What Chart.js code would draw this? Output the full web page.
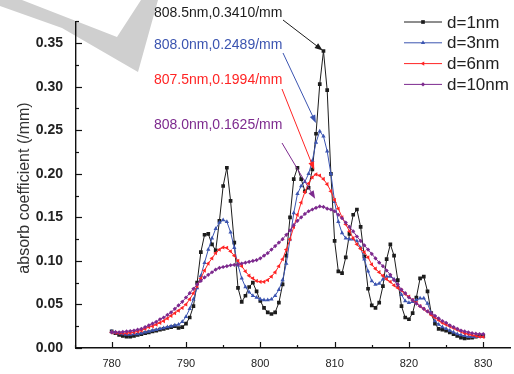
<!DOCTYPE html>
<html>
<head>
<meta charset="utf-8">
<title>absorb coefficient</title>
<script src="https://cdn.jsdelivr.net/npm/chart.js@4.4.1/dist/chart.umd.min.js"></script>
<style>
  html, body { margin:0; padding:0; background:#fff; }
  #wrap { width:514px; height:374px; position:relative; }
</style>
</head>
<body>
<div id="wrap"><canvas id="chart-absorb" width="514" height="374"></canvas></div>
<script>
/* ── Data: absorption spectra, 0.5 nm step ── */
var WAVELENGTH = [
  780,780.5,781,781.5,782,782.5,783,783.5,784,784.5,
  785,785.5,786,786.5,787,787.5,788,788.5,789,789.5,
  790,790.5,791,791.5,792,792.5,793,793.5,794,794.5,
  795,795.5,796,796.5,797,797.5,798,798.5,799,799.5,
  800,800.5,801,801.5,802,802.5,803,803.5,804,804.5,
  805,805.5,806,806.5,807,807.5,808,808.5,809,809.5,
  810,810.5,811,811.5,812,812.5,813,813.5,814,814.5,
  815,815.5,816,816.5,817,817.5,818,818.5,819,819.5,
  820,820.5,821,821.5,822,822.5,823,823.5,824,824.5,
  825,825.5,826,826.5,827,827.5,828,828.5,829,829.5,
  830
];

var ABS_D1 = [
  0.019,0.017,0.015,0.014,0.013,0.013,0.014,0.015,0.016,0.017,
  0.018,0.019,0.020,0.021,0.022,0.023,0.024,0.025,0.023,0.024,
  0.028,0.035,0.048,0.075,0.110,0.130,0.131,0.119,0.112,0.146,
  0.186,0.207,0.169,0.121,0.069,0.053,0.060,0.070,0.075,0.065,
  0.054,0.046,0.041,0.039,0.041,0.052,0.073,0.106,0.150,0.194,
  0.207,0.194,0.180,0.184,0.205,0.246,0.303,0.3410,0.296,0.200,
  0.123,0.088,0.086,0.104,0.131,0.153,0.159,0.139,0.105,0.068,
  0.049,0.046,0.052,0.071,0.102,0.119,0.106,0.078,0.048,0.035,
  0.033,0.040,0.058,0.080,0.082,0.065,0.040,0.028,0.022,0.021,
  0.020,0.018,0.016,0.014,0.012,0.011,0.0115,0.012,0.013,0.014,
  0.014
];

var ABS_D3 = [
  0.019,0.018,0.017,0.016,0.0155,0.0155,0.016,0.016,0.017,0.018,
  0.019,0.020,0.021,0.022,0.023,0.024,0.025,0.026,0.027,0.030,
  0.036,0.045,0.056,0.069,0.083,0.098,0.113,0.126,0.137,0.144,
  0.147,0.145,0.133,0.115,0.095,0.080,0.070,0.064,0.060,0.058,
  0.056,0.055,0.055,0.056,0.060,0.067,0.078,0.097,0.125,0.155,
  0.177,0.186,0.191,0.200,0.215,0.236,0.2489,0.243,0.226,0.200,
  0.168,0.145,0.132,0.126,0.125,0.125,0.123,0.115,0.102,0.088,
  0.077,0.073,0.074,0.079,0.082,0.082,0.079,0.071,0.061,0.054,
  0.052,0.053,0.055,0.057,0.057,0.051,0.040,0.031,0.027,0.024,
  0.022,0.020,0.018,0.016,0.015,0.014,0.013,0.013,0.013,0.013,
  0.013
];

var ABS_D6 = [
  0.018,0.0175,0.017,0.017,0.017,0.0175,0.018,0.019,0.020,0.022,
  0.024,0.025,0.027,0.029,0.031,0.034,0.037,0.040,0.043,0.046,
  0.050,0.056,0.063,0.071,0.080,0.089,0.097,0.103,0.109,0.113,
  0.1155,0.115,0.111,0.106,0.100,0.094,0.088,0.083,0.080,0.077,
  0.076,0.076,0.078,0.082,0.087,0.094,0.102,0.113,0.125,0.139,
  0.153,0.167,0.179,0.189,0.196,0.1994,0.198,0.194,0.188,0.180,
  0.170,0.160,0.150,0.142,0.134,0.126,0.119,0.114,0.110,0.104,
  0.096,0.091,0.087,0.083,0.079,0.076,0.072,0.069,0.066,0.062,
  0.059,0.055,0.052,0.048,0.045,0.042,0.038,0.035,0.032,0.029,
  0.027,0.025,0.023,0.021,0.019,0.017,0.016,0.015,0.014,0.013,
  0.0127
];

var ABS_D10 = [
  0.018,0.018,0.018,0.0185,0.019,0.0195,0.020,0.021,0.022,0.024,
  0.026,0.028,0.030,0.033,0.035,0.038,0.041,0.045,0.049,0.053,
  0.058,0.063,0.068,0.073,0.077,0.081,0.084,0.087,0.090,0.092,
  0.093,0.094,0.095,0.0955,0.096,0.097,0.098,0.099,0.100,0.101,
  0.103,0.106,0.109,0.113,0.117,0.121,0.125,0.130,0.135,0.141,
  0.146,0.150,0.154,0.157,0.159,0.161,0.1625,0.162,0.160,0.159,
  0.157,0.153,0.149,0.144,0.139,0.134,0.128,0.123,0.118,0.113,
  0.108,0.103,0.098,0.094,0.089,0.084,0.078,0.073,0.067,0.063,
  0.058,0.055,0.051,0.048,0.045,0.042,0.040,0.037,0.034,0.031,
  0.029,0.026,0.024,0.022,0.020,0.019,0.018,0.017,0.0165,0.016,
  0.016
];

var SERIES_NAMES = ['d=1nm', 'd=3nm', 'd=6nm', 'd=10nm'];
var X_TICKS = [780, 790, 800, 810, 820, 830];
var X_MINOR = [775, 785, 795, 805, 815, 825];
var Y_TICKS = [0, 0.05, 0.10, 0.15, 0.20, 0.25, 0.30, 0.35];
var Y_MINOR = [0.025, 0.075, 0.125, 0.175, 0.225, 0.275, 0.325, 0.375];
var Y_TITLE = 'absorb coefficient (/mm)';

// peak callouts: wavelength, value, text
var PEAK_NM  = [808.5, 808.0, 807.5, 808.0];
var PEAK_VAL = [0.3410, 0.2489, 0.1994, 0.1625];
var PEAK_TXT = ['808.5nm,0.3410/mm', '808.0nm,0.2489/mm', '807.5nm,0.1994/mm', '808.0nm,0.1625/mm'];

var FONT = "'Liberation Sans', Arial, sans-serif";
var COLORS = ['#1c1c1c', '#3b54b0', '#ff2424', '#7d2a8e'];
var MARKERS = [
  { style:'rect',     rot:0,   r:2.6 },
  { style:'triangle', rot:0,   r:2.5 },
  { style:'triangle', rot:270, r:2.5 },
  { style:'rectRot',  rot:0,   r:2.1 }
];

function pts(arr) {
  return WAVELENGTH.map(function(x, i) { return { x:x, y:arr[i] }; });
}

/* ── Extras: watermark, axis title, inward ticks, callouts, legend ── */
var extrasPlugin = {
  id: 'extras',
  beforeDraw: function(chart) {
    var ctx = chart.ctx;
    ctx.save();
    ctx.fillStyle = '#cfcfcf';
    ctx.beginPath();
    ctx.moveTo(22, 0); ctx.lineTo(117, 37); ctx.lineTo(141, 0);
    ctx.lineTo(158, 0); ctx.lineTo(138, 72); ctx.lineTo(62, 28);
    ctx.lineTo(0, 6); ctx.lineTo(0, 0);
    ctx.closePath(); ctx.fill();
    ctx.restore();
  },
  afterDraw: function(chart) {
    var ctx = chart.ctx, xs = chart.scales.x, ys = chart.scales.y;
    var a = chart.chartArea;
    ctx.save();

    // y axis title
    ctx.save();
    ctx.translate(25, 188);
    ctx.rotate(-Math.PI / 2);
    ctx.font = '16px ' + FONT;
    ctx.fillStyle = '#333';
    ctx.textAlign = 'center';
    ctx.textBaseline = 'middle';
    ctx.fillText(Y_TITLE, 0, 0);
    ctx.restore();

    // ticks pointing into the plot
    ctx.strokeStyle = '#111'; ctx.lineWidth = 1.2;
    function tickX(v, len) { var p = Math.round(xs.getPixelForValue(v)) + 0.5; ctx.beginPath(); ctx.moveTo(p, a.bottom); ctx.lineTo(p, a.bottom - len); ctx.stroke(); }
    function tickY(v, len) { var p = Math.round(ys.getPixelForValue(v)) + 0.5; ctx.beginPath(); ctx.moveTo(a.left, p); ctx.lineTo(a.left + len, p); ctx.stroke(); }
    X_TICKS.forEach(function(v) { tickX(v, 6); });
    X_MINOR.forEach(function(v) { tickX(v, 3); });
    Y_TICKS.forEach(function(v) { tickY(v, 6); });
    Y_MINOR.forEach(function(v) { tickY(v, 3); });

    // peak callouts with arrows
    var starts = [[283, 20], [283, 53], [282, 89], [282, 143]];
    var textY  = [13, 45, 80, 125];
    var gaps   = [1, 9, 5, 9];
    ctx.font = '14px ' + FONT;
    ctx.textAlign = 'left';
    ctx.textBaseline = 'middle';
    PEAK_TXT.forEach(function(t, i) {
      ctx.fillStyle = COLORS[i];
      ctx.fillText(t, 154, textY[i]);
      var px = xs.getPixelForValue(PEAK_NM[i]), py = ys.getPixelForValue(PEAK_VAL[i]);
      var x0 = starts[i][0], y0 = starts[i][1];
      var dx = px - x0, dy = py - y0, L = Math.sqrt(dx*dx + dy*dy);
      var ux = dx / L, uy = dy / L;
      var tx = px - ux * gaps[i], ty = py - uy * gaps[i];
      ctx.strokeStyle = COLORS[i]; ctx.lineWidth = 1;
      ctx.beginPath(); ctx.moveTo(x0, y0); ctx.lineTo(tx - ux * 6, ty - uy * 6); ctx.stroke();
      ctx.beginPath();
      ctx.moveTo(tx, ty);
      ctx.lineTo(tx - ux * 8 - uy * 3, ty - uy * 8 + ux * 3);
      ctx.lineTo(tx - ux * 8 + uy * 3, ty - uy * 8 - ux * 3);
      ctx.closePath(); ctx.fillStyle = COLORS[i]; ctx.fill();
    });

    // legend
    ctx.font = '17px ' + FONT;
    SERIES_NAMES.forEach(function(name, i) {
      var y = 22 + i * 20.8;
      ctx.strokeStyle = COLORS[i]; ctx.lineWidth = 1;
      ctx.beginPath(); ctx.moveTo(404, y); ctx.lineTo(442, y); ctx.stroke();
      ctx.fillStyle = COLORS[i];
      Chart.helpers.drawPoint(ctx, { pointStyle:MARKERS[i].style, rotation:MARKERS[i].rot, radius:MARKERS[i].r, borderWidth:0 }, 423, y);
      ctx.fillStyle = '#222';
      ctx.fillText(name, 447, y + 1);
    });
    ctx.restore();
  }
};

var datasets = [ABS_D1, ABS_D3, ABS_D6, ABS_D10].map(function(arr, i) {
  return {
    label: SERIES_NAMES[i],
    data: pts(arr),
    borderColor: COLORS[i],
    borderWidth: 1,
    backgroundColor: COLORS[i],
    pointStyle: MARKERS[i].style,
    pointRotation: MARKERS[i].rot,
    pointRadius: MARKERS[i].r,
    pointBorderWidth: 0,
    pointBackgroundColor: COLORS[i],
    tension: 0,
    order: 3 - i
  };
});

new Chart(document.getElementById('chart-absorb').getContext('2d'), {
  type: 'line',
  data: { datasets: datasets },
  plugins: [extrasPlugin],
  options: {
    responsive: false,
    animation: false,
    devicePixelRatio: 1,
    layout: { padding: { top:14, right:0, bottom:0, left:0 } },
    plugins: { legend: { display:false }, tooltip: { enabled:false } },
    scales: {
      x: {
        type: 'linear', min: 775.2, max: 833.6,
        afterBuildTicks: function(s) { s.ticks = X_TICKS.map(function(v) { return { value:v }; }); },
        afterFit: function(s) { s.height = 26; },
        grid: { display:false, drawTicks:false },
        border: { display:true, color:'#111', width:1.4 },
        ticks: { font:{ family:FONT, size:11 }, color:'#222', padding:9, maxRotation:0, autoSkip:false }
      },
      y: {
        type: 'linear', min: 0, max: 0.375,
        afterBuildTicks: function(s) { s.ticks = Y_TICKS.map(function(v) { return { value:v }; }); },
        afterFit: function(s) { s.width = 76; },
        grid: { display:false, drawTicks:false },
        border: { display:true, color:'#111', width:1.4 },
        ticks: { font:{ family:FONT, size:14, weight:'bold' }, color:'#222', padding:13,
                 callback: function(v) { return v.toFixed(2); } }
      }
    }
  }
});
</script>
</body>
</html>
